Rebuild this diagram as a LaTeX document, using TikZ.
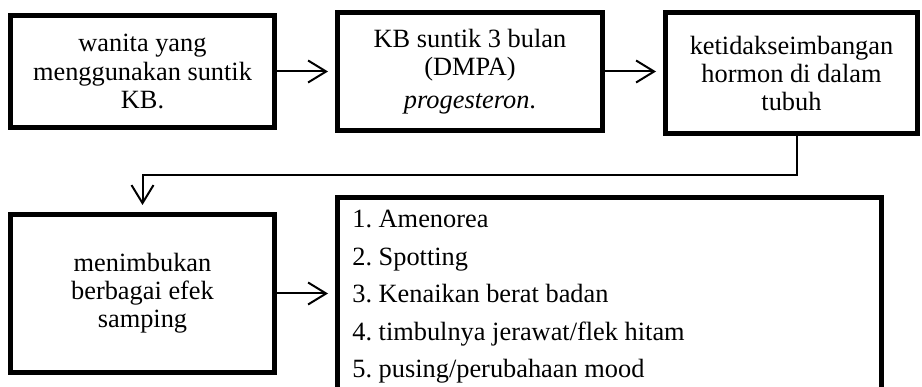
\documentclass[tikz,border=0pt]{standalone}
\usepackage{fontspec}
\setmainfont{Liberation Serif}
\usetikzlibrary{positioning,calc}
\usetikzlibrary{arrows.meta}
\frenchspacing

\tikzset{
	box/.style={draw, line width=0.1cm, align=center, font=\fontsize{15}{16}\selectfont},
	arr/.style={line width=0.04cm, -{Straight Barb[length=0.36cm, width=0.44cm]}, shorten >=0.14cm},
}

\begin{document}
\begin{tikzpicture}
		\useasboundingbox (0,0) rectangle (18.44,-7.74);
		\clip (0,0) rectangle (18.44,-7.74);
		
		%top row
		\node (box1) [box, minimum width=5.28cm, minimum height=2.24cm] at (2.85,-1.43) {wanita yang\\menggunakan suntik\\KB.};
		\node (box2) [box, minimum width=5.3cm, minimum height=2.36cm, right = 1.16cm of box1] {KB suntik 3 bulan\\(DMPA)\\[3pt]\textit{progesteron}.};
		\node (box3) [box, minimum width=5.04cm, minimum height=2.42cm, right = 1.16cm of box2, yshift=-0.04cm] {ketidakseimbangan\\hormon di dalam\\tubuh};
		
		%bottom row
		\node (box4) [box, minimum width=5.28cm, minimum height=3.16cm, below = 1.64cm of box1] {menimbukan\\berbagai efek\\samping};
		\node (box5) [box, minimum width=10.88cm, minimum height=4.6cm, right = 1.16cm of box4.north east, anchor=north west, yshift=0.34cm] {};
		
		%side effects
		\node (items) [align=left, inner sep=0pt, font=\fontsize{15}{21.3}\selectfont, below right = 0.3cm and 0.34cm of box5.north west] {1. Amenorea\\2. Spotting\\3. Kenaikan berat badan\\4. timbulnya jerawat/flek hitam\\5. pusing/perubahaan mood};
		
		\draw[arr] (box1) -- (box1 -| box2.west);
		\draw[arr] (box2) -- (box2 -| box3.west);
		
		%turn down to the second row
		\coordinate [below = 0.78cm of box3.south, xshift=0.11cm] (c1);
		\coordinate (c2) at (c1 -| box4.north);
		\draw[arr] (box3.south -| c1) -- (c1) -- (c2) -- (box4.north);
		
		\draw[arr] (box4.east) -- (box4.east -| box5.west);
\end{tikzpicture}
\end{document}
